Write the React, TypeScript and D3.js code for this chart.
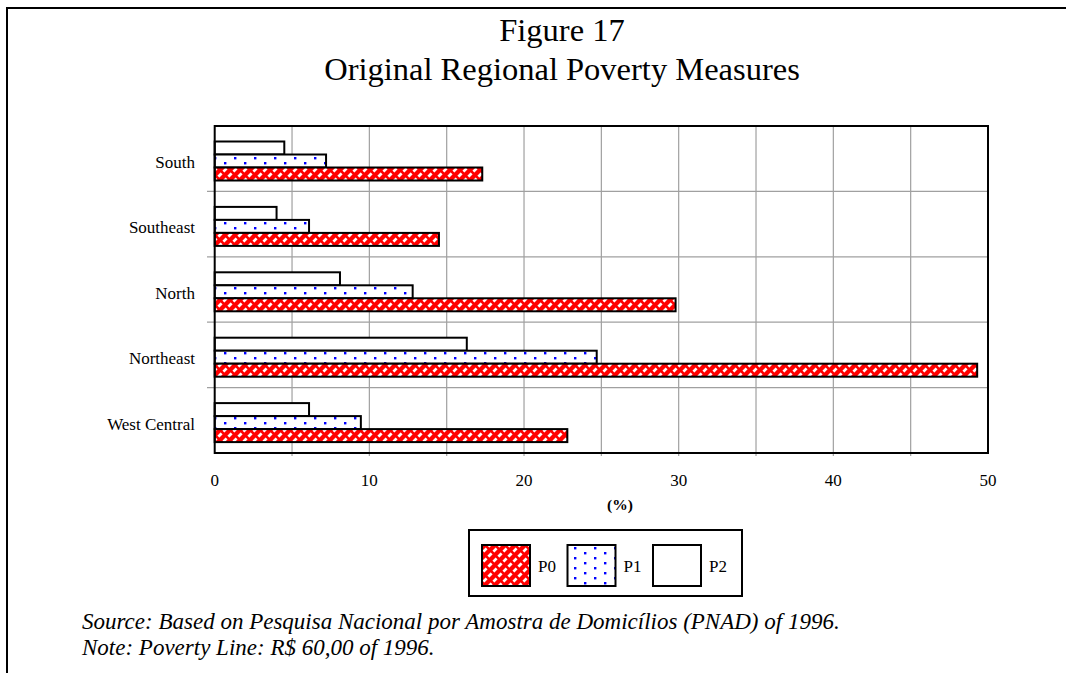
import React from "react";
import * as d3 from "d3";

const categories = ["South", "Southeast", "North", "Northeast", "West Central"];
const seriesNames = ["P0", "P1", "P2"];
const p0Values = [17.3, 14.5, 29.8, 49.3, 22.8];
const p1Values = [7.2, 6.1, 12.8, 24.7, 9.45];
const p2Values = [4.5, 4.0, 8.1, 16.3, 6.1];
const xTickLabels = [0, 10, 20, 30, 40, 50];
const gridValues = [5, 10, 15, 20, 25, 30, 35, 40, 45];

const W = 1066;
const H = 673;
const serif = "'Liberation Serif', 'Times New Roman', serif";

export default function App() {
  const x = d3.scaleLinear().domain([0, 50]).range([214.7, 988]);
  const y = d3.scaleBand<string>().domain(categories).range([126, 453]);
  const sub = d3.scaleBand<string>().domain(["P2", "P1", "P0"]).range([15.5, 54.5]);
  const fills: Record<string, string> = { P0: "url(#patP0)", P1: "url(#patP1)", P2: "#ffffff" };
  const valuesBy: Record<string, number[]> = { P0: p0Values, P1: p1Values, P2: p2Values };

  const legendX = d3.scalePoint<string>().domain(seriesNames).range([482, 653]);

  return (
    <svg
      width={W}
      height={H}
      style={{ position: "absolute", left: 0, top: 0, display: "block", background: "#fff" }}
    >
      <defs>
        <pattern id="patP0" patternUnits="userSpaceOnUse" width={10} height={10}>
          <rect width={10} height={10} fill="#ffffff" />
          <path d="M-2,12 L12,-2 M-7,7 L7,-7 M3,17 L17,3" stroke="#ff0000" strokeWidth={4.4} />
          <path d="M-2,-2 L12,12 M-7,3 L7,17 M3,-7 L17,7" stroke="#ff0000" strokeWidth={2.6} />
        </pattern>
        <pattern id="patP1" patternUnits="userSpaceOnUse" width={20} height={10}>
          <rect width={20} height={10} fill="#ffffff" />
          <rect x={4} y={2} width={2.4} height={2.4} fill="#0000ff" />
          <rect x={14} y={7} width={2.4} height={2.4} fill="#0000ff" />
        </pattern>
      </defs>

      {/* figure frame */}
      <path d={`M7,${H} L7,8 L${W},8`} fill="none" stroke="#000" strokeWidth={2} />

      {/* title */}
      <text x={562} y={41} textAnchor="middle" fontFamily={serif} fontSize={32.5} fill="#000">
        Figure 17
      </text>
      <text x={562} y={80} textAnchor="middle" fontFamily={serif} fontSize={32.5} fill="#000">
        Original Regional Poverty Measures
      </text>

      {/* vertical gridlines */}
      {gridValues.map((v) => (
        <line key={"g" + v} x1={x(v)} x2={x(v)} y1={126} y2={456} stroke="#a0a0a0" strokeWidth={1.2} />
      ))}
      {/* horizontal separators */}
      {categories.slice(1).map((c) => (
        <line key={"h" + c} x1={207} x2={988} y1={y(c)!} y2={y(c)!} stroke="#a0a0a0" strokeWidth={1.2} />
      ))}

      {/* bars */}
      {categories.map((c, i) =>
        ["P2", "P1", "P0"].map((s) => (
          <rect
            key={c + s}
            x={x(0)}
            y={y(c)! + sub(s)!}
            width={x(valuesBy[s][i]) - x(0)}
            height={sub.bandwidth()}
            fill={fills[s]}
            stroke="#000"
            strokeWidth={2}
          />
        ))
      )}

      {/* plot frame */}
      <rect x={x(0)} y={126} width={x(50) - x(0)} height={327} fill="none" stroke="#000" strokeWidth={2} />

      {/* category labels */}
      {categories.map((c) => (
        <text
          key={"l" + c}
          x={195}
          y={y(c)! + 38}
          textAnchor="end"
          dominantBaseline="middle"
          fontFamily={serif}
          fontSize={17}
          fill="#000"
        >
          {c}
        </text>
      ))}

      {/* x tick labels */}
      {xTickLabels.map((v) => (
        <text key={"t" + v} x={x(v)} y={486} textAnchor="middle" fontFamily={serif} fontSize={17} fill="#000">
          {v}
        </text>
      ))}
      <text x={620} y={510} textAnchor="middle" fontFamily={serif} fontSize={15.5} fontWeight="bold" fill="#000">
        (%)
      </text>

      {/* legend */}
      <rect x={469} y={530} width={273} height={66} fill="#fff" stroke="#000" strokeWidth={2} />
      {seriesNames.map((s) => (
        <g key={"lg" + s}>
          <rect
            x={legendX(s)!}
            y={545}
            width={48}
            height={41}
            fill={fills[s]}
            stroke="#000"
            strokeWidth={2}
          />
          <text x={legendX(s)! + 56} y={572} fontFamily={serif} fontSize={17} fill="#000">
            {s}
          </text>
        </g>
      ))}

      {/* notes */}
      <text x={82} y={629} fontFamily={serif} fontSize={23} fontStyle="italic" fill="#000">
        Source: Based on Pesquisa Nacional por Amostra de Domicílios (PNAD) of 1996.
      </text>
      <text x={82} y={655} fontFamily={serif} fontSize={23} fontStyle="italic" fill="#000">
        Note: Poverty Line: R$ 60,00 of 1996.
      </text>
    </svg>
  );
}
